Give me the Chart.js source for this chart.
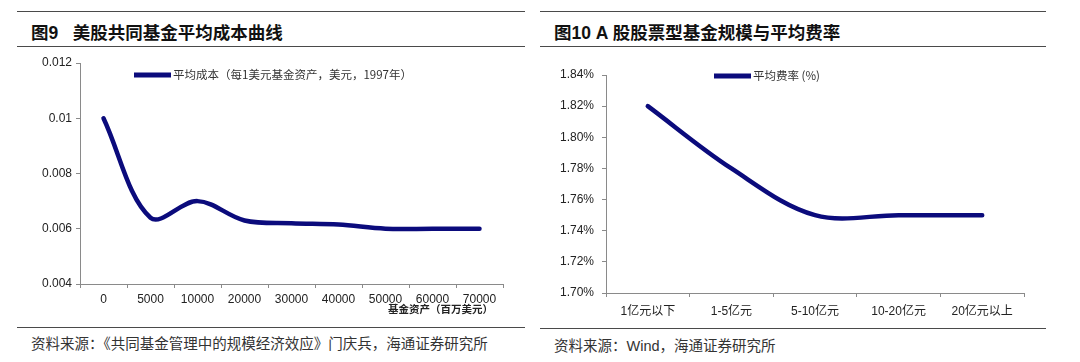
<!DOCTYPE html>
<html>
<head>
<meta charset="utf-8">
<script src="https://cdn.jsdelivr.net/npm/chart.js@4"></script>
<style>
  body { margin: 0; background: #fff; width: 1080px; height: 362px; position: relative; overflow: hidden;
         font-family: "Liberation Sans", "Noto Sans CJK SC", sans-serif; }
  .rule { position: absolute; height: 0; border-top: 1.5px solid #4a4a4a; }
  .title { position: absolute; font-size: 17.5px; font-weight: bold; color: #111; white-space: nowrap; }
  .src { position: absolute; font-size: 14.5px; color: #333; white-space: nowrap;
         font-family: "Liberation Sans", "Noto Sans CJK SC", sans-serif; }
  .box { position: absolute; top: 50px; width: 540px; height: 270px; }
  .xtitle { position: absolute; font-size: 10.5px; font-weight: bold; color: #222; white-space: nowrap; }
</style>
</head>
<body>
<div class="rule" style="left:17px; width:508px; top:11px"></div>
<div class="rule" style="left:17px; width:508px; top:46px"></div>
<div class="title" style="left:31px; top:19px">图9&nbsp;&nbsp; 美股共同基金平均成本曲线</div>
<div class="rule" style="left:540px; width:506px; top:11px"></div>
<div class="rule" style="left:540px; width:506px; top:46px"></div>
<div class="title" style="left:554px; top:19px">图10 A 股股票型基金规模与平均费率</div>

<div class="box" style="left:0"><canvas id="costChart"></canvas></div>
<div class="box" style="left:540px"><canvas id="feeChart"></canvas></div>
<div class="xtitle" style="right:587px; top:301px">基金资产（百万美元）</div>

<div class="rule" style="left:17px; width:508px; top:327px"></div>
<div class="src" style="left:31px; top:332px">资料来源：《共同基金管理中的规模经济效应》门庆兵，海通证券研究所</div>
<div class="rule" style="left:540px; width:506px; top:328px"></div>
<div class="src" style="left:554px; top:334px">资料来源：Wind，海通证券研究所</div>

<script>
// 图9 数据
const assetLabels = ['0', '5000', '10000', '20000', '30000', '40000', '50000', '60000', '70000']
const avgCost = [0.010, 0.0064, 0.0070, 0.0063, 0.0062, 0.00615, 0.0060, 0.0060, 0.0060]
const costTicks = [0.004, 0.006, 0.008, 0.01, 0.012]

// 图10 数据
const sizeLabels = ['1亿元以下', '1-5亿元', '5-10亿元', '10-20亿元', '20亿元以上']
const avgFee = [1.82, 1.78, 1.75, 1.75, 1.75]
const feeTicks = [1.70, 1.72, 1.74, 1.76, 1.78, 1.80, 1.82, 1.84]

const NAVY = '#0b0b7c'
const AXIS = '#8a8a8a'
const tickFont = { family: '"Liberation Sans", "Noto Sans CJK SC", sans-serif', size: 12 }

// simple line legend drawn inside the plot area
const lineLegend = {
    id: 'lineLegend',
    afterDraw(chart, args, opts) {
        const ctx = chart.ctx
        const area = chart.chartArea
        const ds = chart.data.datasets[0]
        const x = area.left + opts.dx
        const y = area.top + opts.dy
        ctx.save()
        ctx.strokeStyle = ds.borderColor
        ctx.lineWidth = 5
        ctx.beginPath()
        ctx.moveTo(x, y)
        ctx.lineTo(x + 37, y)
        ctx.stroke()
        ctx.fillStyle = '#333'
        ctx.font = '11.5px "Noto Sans CJK SC", sans-serif'
        ctx.textBaseline = 'middle'
        ctx.fillText(ds.label, x + 39, y)
        ctx.restore()
    }
}

function makeChart(id, labels, data, label, ticks, fmt, lay) {
    return new Chart(document.getElementById(id).getContext('2d'), {
        type: 'line',
        data: {
            labels: labels,
            datasets: [{
                label: label,
                data: data,
                borderColor: NAVY,
                borderWidth: 4.5,
                tension: 0.35,
                pointRadius: 0,
                fill: false,
                borderCapStyle: 'round'
            }]
        },
        options: {
            responsive: true,
            maintainAspectRatio: false,
            animation: false,
            layout: { padding: lay.padding },
            plugins: {
                legend: { display: false },
                tooltip: { enabled: false },
                lineLegend: lay.legend
            },
            scales: {
                x: {
                    type: 'category',
                    offset: true,
                    grid: { display: true, offset: true, drawOnChartArea: false, tickLength: 4, color: AXIS },
                    border: { color: AXIS },
                    ticks: { color: '#222', font: tickFont, padding: lay.xPad, maxRotation: 0, autoSkip: false },
                    afterFit: s => { s.height = lay.xHeight }
                },
                y: {
                    min: ticks[0],
                    max: ticks[ticks.length - 1],
                    afterBuildTicks: s => { s.ticks = ticks.map(v => ({ value: v })) },
                    grid: { drawOnChartArea: false, tickLength: 4, color: AXIS },
                    border: { color: AXIS },
                    ticks: { color: '#222', font: tickFont, padding: lay.yPad, callback: fmt },
                    afterFit: s => { s.width = lay.yWidth }
                }
            }
        },
        plugins: [lineLegend]
    })
}

makeChart('costChart', assetLabels, avgCost, '平均成本（每1美元基金资产，美元，1997年）', costTicks,
    v => String(+v.toFixed(3)),
    { padding: { left: 0, right: 37, top: 13, bottom: 0 }, xHeight: 36, yWidth: 80, xPad: 4, yPad: 4,
      legend: { dx: 54, dy: 12 } })

makeChart('feeChart', sizeLabels, avgFee, '平均费率 (%)', feeTicks,
    v => v.toFixed(2) + '%',
    { padding: { left: 0, right: 56, top: 25, bottom: 0 }, xHeight: 27, yWidth: 66, xPad: 7, yPad: 8,
      legend: { dx: 108, dy: 1 } })
</script>
</body>
</html>
